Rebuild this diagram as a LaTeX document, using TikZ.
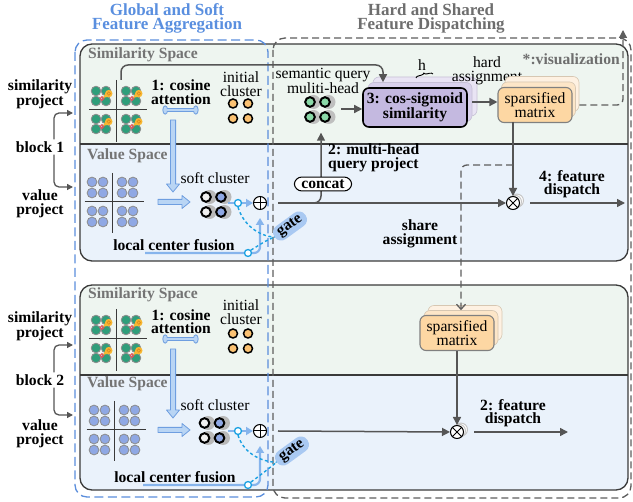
\documentclass[tikz,border=0pt]{standalone}
\usepackage{fontspec}
\setmainfont{Liberation Serif}
\usetikzlibrary{arrows.meta,calc,decorations.pathreplacing}

\definecolor{simbg}{HTML}{EEF5F0}
\definecolor{valbg}{HTML}{EAF2FB}
\definecolor{edgedark}{HTML}{3A3A3A}
\definecolor{dashblue}{HTML}{5B8EDC}
\definecolor{dashgray}{HTML}{5E5E5E}
\definecolor{titleblue}{HTML}{5A8FDF}
\definecolor{titlegray}{HTML}{6E6E6E}
\definecolor{spacegray}{HTML}{747474}
\definecolor{greenA}{HTML}{2F9E7A}
\definecolor{greenB}{HTML}{8AD9A8}
\definecolor{bluec}{HTML}{8FA8E4}
\definecolor{ringgray}{HTML}{8C8C8C}
\definecolor{orangec}{HTML}{FBC272}
\definecolor{fatfill}{HTML}{B9D5F4}
\definecolor{fatedge}{HTML}{6E9EE0}
\definecolor{cyanl}{HTML}{1BA1E2}
\definecolor{fuse}{HTML}{86B4EC}
\definecolor{lavA}{HTML}{C4B9E0}
\definecolor{lavB}{HTML}{D9D1EC}
\definecolor{lavC}{HTML}{E9E4F4}
\definecolor{orgA}{HTML}{FDD7A3}
\definecolor{orgB}{HTML}{FDE6C8}
\definecolor{orgC}{HTML}{FEF1E2}
\definecolor{gatebg}{HTML}{A9C9F2}
\definecolor{arrgray}{HTML}{555555}
\definecolor{pinyel}{HTML}{F7B731}
\definecolor{pinring}{HTML}{E08A1E}
\definecolor{pinred}{HTML}{E8505B}

\newcommand{\myfs}{\fontsize{15.6}{13.5}\selectfont}
\newcommand{\fatdown}[3]{%
 \draw[fatarr] (#1-2.6,#2) -- (#1-2.6,#3-8) -- (#1-6.5,#3-8) -- (#1,#3) -- (#1+6.5,#3-8) -- (#1+2.6,#3-8) -- (#1+2.6,#2) -- cycle;}
\newcommand{\fatright}[3]{%
 \draw[fatarr] (#2,#1-2.6) -- (#3-8,#1-2.6) -- (#3-8,#1-6.5) -- (#3,#1) -- (#3-8,#1+6.5) -- (#3-8,#1+2.6) -- (#2,#1+2.6) -- cycle;}
\newcommand{\bonearrow}[3]{%
 \draw[fatarr] (#2+2,#1-1.8) rectangle (#3-2,#1+1.8);
 \draw[fatarr] (#2+2.2,#1) ellipse (2.4 and 4.2);
 \draw[fatarr] (#3-2.2,#1) ellipse (2.4 and 4.2);
 \fill[fatfill] (#2+3.5,#1-1.2) rectangle (#3-3.5,#1+1.2);}

\tikzset{
 txt/.style={font=\myfs, inner sep=0pt, align=center},
 btxt/.style={font=\myfs\bfseries, inner sep=0pt, align=center},
 spacelbl/.style={font=\myfs\bfseries, text=spacegray, inner sep=0pt, anchor=west},
 blockline/.style={draw=edgedark, line width=1.3pt},
 garr/.style={draw=arrgray, line width=1.5pt, -{Triangle[length=8pt,width=8pt]}},
 sarr/.style={draw=arrgray, line width=1.3pt, -{Triangle[length=6pt,width=6pt]}},
 gdash/.style={draw=dashgray, line width=1.3pt, dash pattern=on 7pt off 4pt},
 fatarr/.style={fill=fatfill, draw=fatedge, line width=0.8pt, line join=round},
 cyandash/.style={draw=cyanl, line width=1.4pt, dash pattern=on 3pt off 2.5pt},
 smallring/.style={circle, draw=cyanl, line width=1.3pt, fill=white, minimum size=7pt, inner sep=0pt},
 fuseline/.style={draw=fuse, line width=2.2pt},
 opnode/.style={circle, draw=black, fill=white, line width=1pt, minimum size=13pt, inner sep=0pt},
 cosback/.style={rounded corners=6pt, minimum width=104pt, minimum height=39pt, draw=lavB!80!gray, line width=0.6pt},
 cosfront/.style={rounded corners=6pt, minimum width=104pt, minimum height=39pt, fill=lavA, draw=black, line width=1.6pt, font=\myfs\bfseries, align=center, inner sep=0pt},
 spback/.style={rounded corners=6pt, minimum width=74pt, minimum height=35pt, draw=orgB!70!gray, line width=0.6pt},
 spfront/.style={rounded corners=6pt, minimum width=74pt, minimum height=35pt, fill=orgA, draw=gray, line width=1.1pt, font=\myfs, align=center, inner sep=0pt},
 gatest/.style={fill=gatebg, rounded corners=7.5pt, minimum height=16pt, inner xsep=5pt, inner ysep=1pt, font=\myfs\bfseries},
 simcell/.pic={
  \foreach \dx/\dy in {-5/-5,5/-5,-5/5,5/5}
    \filldraw[fill=greenA, draw=ringgray, line width=0.8pt] (\dx,\dy) circle (4.8);
  \draw[pinred, line width=1.1pt] (1,2.5) circle (1.8);
  \fill[pinyel] (2.2,1.8) -- (9.6,0.4) -- (5.6,-5.0) -- cycle;
  \fill[pinyel] (7.8,-2.4) circle (3.7);
  \draw[pinring, line width=0.7pt] (7.8,-2.4) circle (1.7);
 },
 simgrid/.pic={
  \draw[edgedark, line width=1pt] (0,-30) -- (0,32) (-27,0) -- (31,0);
  \pic at (-15,-14) {simcell};
  \pic at (15,-14) {simcell};
  \pic at (-15,14) {simcell};
  \pic at (15,14) {simcell};
 },
 valgrid/.pic={
  \draw[edgedark, line width=1pt] (0,-29) -- (0,31) (-28,0) -- (31,0);
  \foreach \x in {-20.5,-9.5,9.5,20.5}
   \foreach \y in {-20,-9,9,20}
    \filldraw[fill=bluec, draw=ringgray, line width=0.8pt] (\x,\y) circle (4.9);
 },
 softcl/.pic={
  \foreach \x/\y in {-7.5/-7.5,7.5/-7.5,-7.5/7.5,7.5/7.5}
    \fill[gray!55] (\x+3.5,\y) circle (7);
  \filldraw[fill=gray!12, draw=black, line width=2pt] (-7.5,-7.5) circle (4.8);
  \filldraw[fill=bluec, draw=black, line width=2pt] (7.5,-7.5) circle (4.8);
  \filldraw[fill=gray!12, draw=black, line width=2pt] (-7.5,7.5) circle (4.8);
  \filldraw[fill=bluec, draw=black, line width=2pt] (7.5,7.5) circle (4.8);
 },
 sqcl/.pic={
  \foreach \x/\y in {-7.5/-7.5,7.5/-7.5,-7.5/7.5,7.5/7.5}
    \fill[gray!50] (\x+3.5,\y) circle (7);
  \foreach \x/\y in {-7.5/-7.5,7.5/-7.5,-7.5/7.5,7.5/7.5}
    \filldraw[fill=greenB, draw=black, line width=2pt] (\x,\y) circle (4.8);
 },
 initcl/.pic={
  \foreach \x/\y in {-7.5/-7.5,7.5/-7.5,-7.5/7.5,7.5/7.5}
    \filldraw[fill=orangec, draw=black, line width=1.5pt] (\x,\y) circle (4.5);
 }
}

\begin{document}
\begin{tikzpicture}[x=1pt,y=-1pt]
\useasboundingbox (0,0) rectangle (633,502);

% ---------- block backgrounds ----------
\begin{scope}
 \clip[rounded corners=12pt] (80,44) rectangle (628,261);
 \fill[simbg] (80,44) rectangle (628,144);
 \fill[valbg] (80,144) rectangle (628,261);
\end{scope}
\draw[blockline] (80,144) -- (628,144);
\draw[blockline, rounded corners=12pt] (80,44) rectangle (628,261);

\begin{scope}
 \clip[rounded corners=12pt] (80,285) rectangle (628,490);
 \fill[simbg] (80,285) rectangle (628,375);
 \fill[valbg] (80,375) rectangle (628,490);
\end{scope}
\draw[blockline] (80,375) -- (628,375);
\draw[blockline, rounded corners=12pt] (80,285) rectangle (628,490);

% ---------- dashed group frames ----------
\draw[draw=dashblue, line width=1.3pt, dash pattern=on 9pt off 4.5pt, rounded corners=12pt] (75,40) rectangle (268,497);
\draw[gdash, rounded corners=12pt] (273,38) rectangle (631,498);

% ---------- titles ----------
\node[font=\fontsize{17}{14}\selectfont\bfseries, text=titleblue, align=center, inner sep=0pt] (t1) at (167,18.5) {Global and Soft\\Feature Aggregation};
\node[font=\fontsize{17}{14}\selectfont\bfseries, text=titlegray, align=center, inner sep=0pt] (t2) at (431,18.5) {Hard and Shared\\Feature Dispatching};

% ---------- left labels ----------
\node[btxt] (simp1) at (40,94) {similarity\\project};
\node[btxt] (blk1) at (40,147) {block 1};
\node[btxt] (valp1) at (40,204) {value\\project};
\coordinate (sin1) at (73,113);
\coordinate (vin1) at (73,187);
\draw[sarr, rounded corners=5pt] ($(blk1.north)+(14,-2)$) |- (sin1);
\draw[sarr, rounded corners=5pt] ($(blk1.south)+(14,2)$) |- (vin1);

\node[btxt] (simp2) at (40,326.5) {similarity\\project};
\node[btxt] (blk2) at (40,380) {block 2};
\node[btxt] (valp2) at (40,434) {value\\project};
\coordinate (sin2) at (73,345);
\coordinate (vin2) at (73,415);
\draw[sarr, rounded corners=5pt] ($(blk2.north)+(14,-2)$) |- (sin2);
\draw[sarr, rounded corners=5pt] ($(blk2.south)+(14,2)$) |- (vin2);

% ================= BLOCK 1 =================
\node[spacelbl] (ss1) at (88,55) {Similarity Space};
\node[spacelbl] (vs1) at (87,156) {Value Space};

\coordinate (gtop1) at (121,80);
\coordinate (k1) at (383,65);

\pic at (116,110) {simgrid};
\node[btxt] (cosatt1) at (181,92) {1: cosine\\attention};
\bonearrow{110}{163}{198}
\fatdown{173}{120}{192}
\node[txt] (ini1) at (241,84) {initial\\cluster};
\pic at (240.5,111) {initcl};

\pic at (112.5,202) {valgrid};
\fatright{202}{158}{190}
\node[txt] (soft1) at (215,178) {soft cluster};
\pic at (213.5,204.5) {softcl};

\node[opnode] (add1) at (260,203) {};
\draw[line width=1pt] (add1.north) -- (add1.south) (add1.east) -- (add1.west);
\coordinate (scr1) at (228,203);
\draw[fuseline, -{Triangle[length=7pt,width=8pt]}] (scr1) -- (add1.west);
\node[btxt] (lcf1) at (174,245) {local center fusion};
\coordinate (lcs1) at (145,253);
\draw[fuseline, rounded corners=6pt, -{Triangle[length=7pt,width=8pt]}, shorten >=8pt] (lcs1) -| (add1.south);

\node[gatest, rotate=36] (gate1) at (290,226) {gate};
\node[smallring] (sc1) at (238,203) {};
\node[smallring] (lc1) at (248,253) {};
\draw[cyandash] (sc1.south) .. controls (243,224) and (258,236) .. (gate1.west);
\draw[cyandash] (lc1.north east) .. controls (258,246) and (266,240) .. (gate1.west);

% semantic query
\node[txt] (sqt) at (323,81) {semantic query\\muliti-head};
\pic at (317.5,109.5) {sqcl};
\node[minimum width=36pt, minimum height=45pt, inner sep=0pt] (sq) at (321,110) {};

% cos-sigmoid stack
\node[cosback, fill=lavC] (cosb2) at (425,96.5) {};
\node[cosback, fill=lavB] (cosb1) at (420,102) {};
\node[cosfront] (cos) at (415,107.5) {3: cos-sigmoid\\similarity};
\draw[garr, rounded corners=7pt] (gtop1) |- (k1) -- (k1 |- cosb1.north);
\coordinate (sqr) at (341,109);
\draw[garr] (sqr) -- (sqr -| cos.west);

\node[txt] (hh) at (422,65) {h};
\draw[line width=0.9pt, decorate, decoration={brace, amplitude=3pt}] (416,78) -- (433,74);
\node[txt] (hard) at (487,71) {hard\\assignment};

% sparsified stack
\node[spback, fill=orgC] (spb2) at (542,94) {};
\node[spback, fill=orgB] (spb1) at (538.5,99.5) {};
\node[spfront] (spars) at (535,105) {sparsified\\matrix};
\draw[garr] (cosb1.east) -- (cosb1.east -| spars.west);

\node[font=\myfs\bfseries, text=titlegray, anchor=east, inner sep=0pt] (visl) at (620,59) {*:visualization};
\coordinate (vis) at (623,30);
\draw[gdash, rounded corners=6pt, -{Triangle[length=8pt,width=8pt]}] (spb2.east |- spars.east) -| (vis);

% multiply 1
\foreach \o in {4,2}
  \draw[gray!45, fill=white, line width=1pt] (513+\o,203-\o*0.6) circle (6.5);
\node[opnode] (mul1) at (513,203) {};
\draw[line width=1pt] (mul1.north east) -- (mul1.south west) (mul1.north west) -- (mul1.south east);
\coordinate (spx) at (513,122);
\draw[garr] (spx) -- (mul1.north);

% main line and branch
\draw[garr] ($(add1.east)+(11,0)$) -- (mul1.west);
\draw[garr, rounded corners=7pt] ($(add1.east)+(11,0)$) -| (sq.south);
\node[btxt, draw=black, fill=white, rounded corners=7.5pt, line width=1pt, inner xsep=7pt, inner ysep=2.5pt] (concat) at (323,184) {concat};
\node[btxt, anchor=west, align=left] (mhq) at (328,158) {2: multi-head\\query project};

\node[btxt] (fd1) at (572,184) {4: feature\\dispatch};
\coordinate (out1) at (625,203);
\draw[garr] ($(mul1.east)+(10,0)$) -- (out1);

\node[btxt] (share) at (420,234) {share\\assignment};

% ================= BLOCK 2 =================
\node[spacelbl] (ss2) at (88,295) {Similarity Space};
\node[spacelbl] (vs2) at (87,384) {Value Space};

\pic at (116,339) {simgrid};
\node[btxt] (cosatt2) at (181,321.5) {1: cosine\\attention};
\bonearrow{339}{163}{198}
\fatdown{173}{349}{418}
\node[txt] (ini2) at (241,312) {initial\\cluster};
\pic at (240.5,341) {initcl};

\pic at (114.5,430) {valgrid};
\fatright{430}{158}{190}
\node[txt] (soft2) at (215,405) {soft cluster};
\pic at (212,430.5) {softcl};

\node[opnode] (add2) at (260,431) {};
\draw[line width=1pt] (add2.north) -- (add2.south) (add2.east) -- (add2.west);
\coordinate (scr2) at (228,431);
\draw[fuseline, -{Triangle[length=7pt,width=8pt]}] (scr2) -- (add2.west);
\node[btxt] (lcf2) at (175,477) {local center fusion};
\coordinate (lcs2) at (143,485);
\draw[fuseline, rounded corners=6pt, -{Triangle[length=7pt,width=8pt]}, shorten >=8pt] (lcs2) -| (add2.south);

\node[gatest, rotate=36] (gate2) at (292,451) {gate};
\node[smallring] (sc2) at (238,431) {};
\node[smallring] (lc2) at (248,485) {};
\draw[cyandash] (sc2.south) .. controls (243,452) and (260,462) .. (gate2.west);
\draw[cyandash] (lc2.north east) .. controls (258,477) and (267,470) .. (gate2.west);

\node[spback, fill=orgC] (s2b2) at (465,323) {};
\node[spback, fill=orgB] (s2b1) at (461,328) {};
\node[spfront] (spars2) at (457,333) {sparsified\\matrix};

\coordinate (sh) at (513,165);
\draw[gdash, rounded corners=6pt, -{Straight Barb[length=5pt,width=9pt]}] (sh) -| (s2b1.north);

\foreach \o in {4,2}
  \draw[gray!45, fill=white, line width=1pt] (457+\o,432-\o*0.6) circle (6.5);
\node[opnode] (mul2) at (457,432) {};
\draw[line width=1pt] (mul2.north east) -- (mul2.south west) (mul2.north west) -- (mul2.south east);
\draw[garr] (spars2.south) -- (mul2.north);
\draw[garr] ($(add2.east)+(11,0)$) -- (mul2.west);
\node[btxt] (fd2) at (513,413) {2: feature\\dispatch};
\coordinate (out2) at (568,432);
\draw[garr] ($(mul2.east)+(10,0)$) -- (out2);

\end{tikzpicture}
\end{document}
